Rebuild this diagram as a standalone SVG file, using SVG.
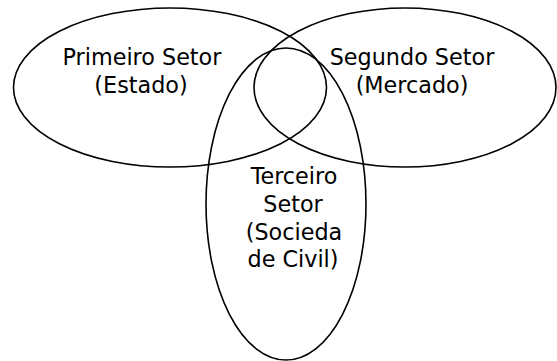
<svg xmlns="http://www.w3.org/2000/svg" width="557" height="361" viewBox="0 0 557 361">
<style>
.s{fill:none;stroke:#000;stroke-width:1.6}
.t{font-family:"DejaVu Sans",Verdana,sans-serif;font-size:22.3px;fill:#000;text-anchor:middle}
</style>
<rect width="557" height="361" fill="#fff"/>
<g id="primeiro">
<ellipse class="s" cx="170" cy="87.5" rx="156.5" ry="79.5"/>
<text class="t" x="142" y="65">Primeiro Setor</text>
<text class="t" x="141" y="92.5">(Estado)</text>
</g>
<g id="segundo">
<ellipse class="s" cx="405" cy="87.5" rx="151" ry="79.5"/>
<text class="t" x="412" y="65">Segundo Setor</text>
<text class="t" x="412" y="92.5">(Mercado)</text>
</g>
<g id="terceiro">
<ellipse class="s" cx="286" cy="204" rx="80" ry="156"/>
<text class="t" x="294" y="184">Terceiro</text>
<text class="t" x="293" y="212">Setor</text>
<text class="t" x="294" y="240">(Socieda</text>
<text class="t" x="293" y="267">de Civil)</text>
</g>
<g id="connectors"/>
</svg>
